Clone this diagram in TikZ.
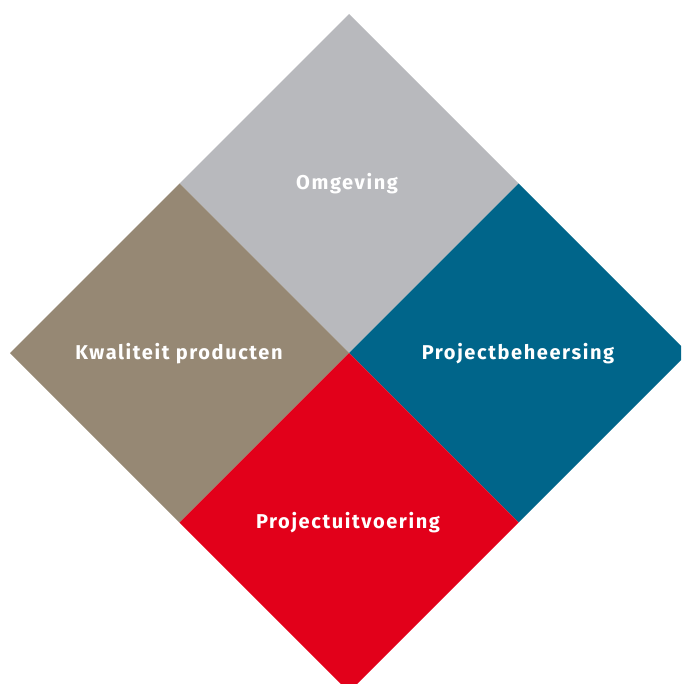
\documentclass[tikz,border=0pt]{standalone}
\usepackage{fontspec}
\setmainfont{Fira Sans}
\newfontfamily\fieldfont[LetterSpace=8]{Fira Sans}
\usepackage{tikz}
\definecolor{omggray}{HTML}{B8B9BD}
\definecolor{kwalbrown}{HTML}{968874}
\definecolor{beheerblue}{HTML}{00658A}
\definecolor{uitvred}{HTML}{E2001A}
\begin{document}
\begin{tikzpicture}
		[x=1pt, y=-1pt,
		 field/.style={text=white, font=\fieldfont\fontsize{20}{22}\selectfont\bfseries}]
		\useasboundingbox (0,0) rectangle (681,684);
		\clip (0,0) rectangle (681,684);
		\coordinate (C) at (349,353);
		\coordinate (T) at (349,14);
		\coordinate (L) at (10,353);
		\coordinate (R) at (688,353);
		\coordinate (B) at (349,692);
		\coordinate (TL) at (179.5,183.5);
		\coordinate (TR) at (518.5,183.5);
		\coordinate (BL) at (179.5,522.5);
		\coordinate (BR) at (518.5,522.5);
		\fill[omggray] (T) -- (TR) -- (C) -- (TL) -- cycle;
		\fill[kwalbrown] (TL) -- (C) -- (BL) -- (L) -- cycle;
		\fill[beheerblue] (TR) -- (R) -- (BR) -- (C) -- cycle;
		\fill[uitvred] (C) -- (BR) -- (B) -- (BL) -- cycle;
		\node[field] (omg) at (347,184) {Omgeving};
		\node[field] (kwal) at (179,354) {Kwaliteit producten};
		\node[field] (beheer) at (518,354) {Projectbeheersing};
		\node[field] (uitv) at (348,523) {Projectuitvoering};
	\end{tikzpicture}
\end{document}
